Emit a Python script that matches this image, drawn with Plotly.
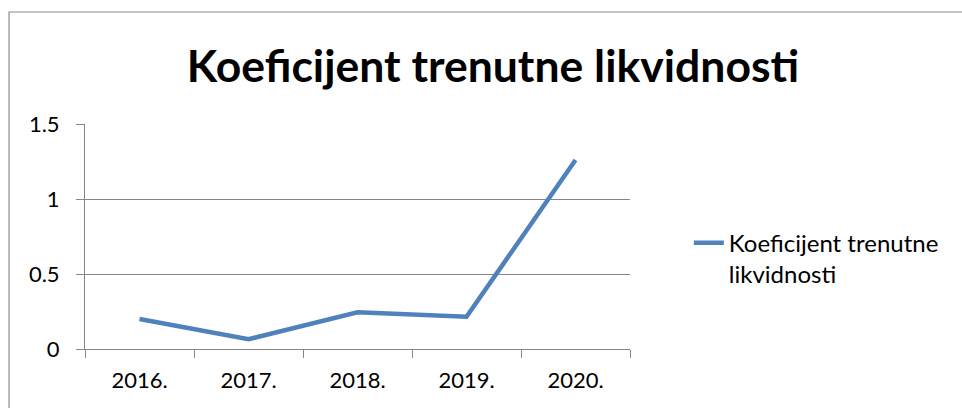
import plotly.graph_objects as go

years = ["2016.", "2017.", "2018.", "2019.", "2020."]
values = [0.20, 0.065, 0.245, 0.215, 1.26]
series_name = "Koeficijent trenutne<br>likvidnosti"
title_text = "Koeficijent trenutne likvidnosti"
y_ticks = [0, 0.5, 1, 1.5]
y_tick_labels = ["0", "0.5", "1", "1.5"]

FONT = "Lato, Open Sans, sans-serif"

fig = go.Figure()
fig.add_trace(go.Scatter(
    x=years, y=values, mode="lines", name=series_name,
    line=dict(color="#4F81BD", width=4.5),
))

fig.update_layout(
    width=962, height=408,
    margin=dict(l=85, r=332, t=124, b=59),
    paper_bgcolor="white", plot_bgcolor="white",
    font=dict(family=FONT, size=22, color="#000000"),
    title=dict(text=f"<b>{title_text}</b>", x=493 / 962, xanchor="center",
               y=1 - 66 / 408, yanchor="middle",
               font=dict(family=FONT, size=44.5, color="#000000")),
    showlegend=True,
    legend=dict(x=1.108, y=0.57, xanchor="left", yanchor="top", valign="top",
                font=dict(family=FONT, size=24, color="#000000"),
                bgcolor="rgba(0,0,0,0)", itemwidth=30),
    shapes=[dict(type="path", xref="paper", yref="paper",
                 path="M -0.1394,-0.5 L -0.1394,1.4978 L 1.7,1.4978",
                 line=dict(color="#8c8c8c", width=1.2))],
)

fig.update_xaxes(
    type="category", range=[-0.5, 4.5],
    showline=True, linecolor="#868686", linewidth=1,
    ticks="outside", tickson="boundaries", ticklen=8, tickcolor="#868686",
    showgrid=False, ticklabelstandoff=12,
    tickfont=dict(family=FONT, size=22, color="#000000"),
)
fig.update_yaxes(
    range=[0, 1.5], tickvals=y_ticks, ticktext=y_tick_labels,
    showline=True, linecolor="#868686", linewidth=1,
    ticks="outside", ticklen=8, tickcolor="#868686",
    showgrid=True, gridcolor="#868686", gridwidth=1, zeroline=False,
    ticklabelstandoff=12,
    tickfont=dict(family=FONT, size=22, color="#000000"),
)

fig.write_html("out.html", config={"displayModeBar": False},
               post_script="document.body.style.margin='0';document.body.style.overflow='hidden';")
